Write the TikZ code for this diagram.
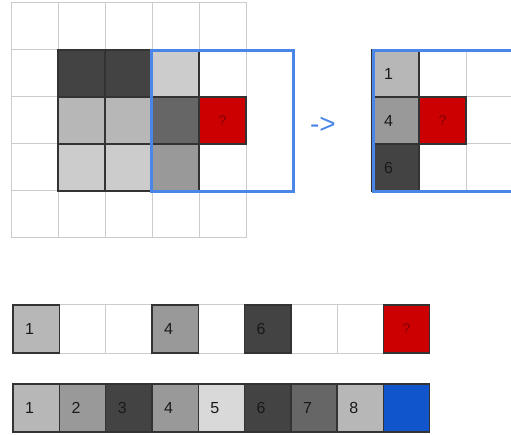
\documentclass[tikz,border=0pt]{standalone}
\usepackage{fontspec}
\setmainfont{Liberation Sans}
\definecolor{gridgray}{HTML}{CCCCCC}
\definecolor{edgedark}{HTML}{333333}
\definecolor{gA}{HTML}{434343}
\definecolor{gB}{HTML}{666666}
\definecolor{gC}{HTML}{999999}
\definecolor{gD}{HTML}{B7B7B7}
\definecolor{gE}{HTML}{CCCCCC}
\definecolor{gF}{HTML}{D9D9D9}
\definecolor{cellred}{HTML}{CC0000}
\definecolor{qred}{HTML}{800000}
\definecolor{cellblue}{HTML}{1155CC}
\definecolor{framblue}{HTML}{4A86E8}
\begin{document}
\begin{tikzpicture}[x=1pt,y=-1pt,
  wcell/.style={draw=gridgray, line width=1pt, fill=white, anchor=north west,
    minimum width=47pt, minimum height=47pt, inner sep=0pt, outer sep=0pt},
  ccell/.style={draw=edgedark, line width=1.4pt, fill=#1, anchor=north west,
    minimum width=47pt, minimum height=47pt, inner sep=0pt, outer sep=0pt},
  digit/.style={anchor=west, inner sep=0pt, text=black!90, font=\fontsize{16}{16}\selectfont},
  qmark/.style={inner sep=0pt, text=qred, font=\fontsize{14}{14}\selectfont},
  frame/.style={draw=framblue, line width=3pt}]
\useasboundingbox (0,0) rectangle (511,435);
\clip (0,0) rectangle (511,435);
% ---------- left 5x5 grid ----------
\foreach \c in {0,...,4}{\foreach \r in {0,...,4}{
  \node[wcell] (L-\c-\r) at (11+47*\c, 3+47*\r) {};}}
\node[ccell=gA] (La) at (58,50) {};
\node[ccell=gA] (Lb) at (105,50) {};
\node[ccell=gE] (Lc) at (152,50) {};
\node[ccell=gD] (Ld) at (58,97) {};
\node[ccell=gD] (Le) at (105,97) {};
\node[ccell=gB] (Lf) at (152,97) {};
\node[ccell=cellred] (Lq) at (199,97) {};
\node[qmark] (Lqt) at (Lq.center) {?};
\node[ccell=gE] (Lg) at (58,144) {};
\node[ccell=gE] (Lh) at (105,144) {};
\node[ccell=gC] (Li) at (152,144) {};
\coordinate (LF1) at (151,51);
\coordinate (LF2) at (293,192);
\draw[frame] (LF1) rectangle (LF2);
% ---------- arrow text ----------
\node[text=framblue, inner sep=0pt, font=\fontsize{28}{28}\selectfont] (arr) at (323,125) {->};
% ---------- right grid ----------
\foreach \c in {0,...,2}{\foreach \r in {0,...,2}{
  \node[wcell] (R-\c-\r) at (372+47*\c, 50+47*\r) {};}}
\node[ccell=gD] (Ra) at (372,50) {};
\node[digit] (Rat) at ([xshift=12pt]Ra.west) {1};
\node[ccell=gC] (Rb) at (372,97) {};
\node[digit] (Rbt) at ([xshift=12pt]Rb.west) {4};
\node[ccell=gA] (Rc) at (372,144) {};
\node[digit] (Rct) at ([xshift=12pt]Rc.west) {6};
\node[ccell=cellred] (Rq) at (419,97) {};
\node[qmark] (Rqt) at (Rq.center) {?};
\coordinate (RF1) at (373,51);
\coordinate (RF2) at (520,192);
\draw[frame] (RF1) rectangle (RF2);
% ---------- bottom row 1 ----------
\foreach \i in {0,...,8}{
  \node[wcell, minimum width=46.3pt, minimum height=48pt] (A-\i) at (13+46.3*\i, 305) {};}
\node[ccell=gD, minimum width=46.3pt, minimum height=48pt] (A1) at (13,305) {};
\node[digit] (A1t) at ([xshift=12pt]A1.west) {1};
\node[ccell=gC, minimum width=46.3pt, minimum height=48pt] (A4) at (13+46.3*3,305) {};
\node[digit] (A4t) at ([xshift=12pt]A4.west) {4};
\node[ccell=gA, minimum width=46.3pt, minimum height=48pt] (A6) at (13+46.3*5,305) {};
\node[digit] (A6t) at ([xshift=12pt]A6.west) {6};
\node[ccell=cellred, minimum width=46.3pt, minimum height=48pt] (Aq) at (13+46.3*8,305) {};
\node[qmark] (Aqt) at (Aq.center) {?};
% ---------- bottom row 2 ----------
\foreach \i/\col/\lab in {0/gD/1,1/gC/2,2/gA/3,3/gC/4,4/gF/5,5/gA/6,6/gB/7,7/gD/8}{
  \node[ccell=\col, minimum width=46.3pt, minimum height=48pt] (B-\i) at (13+46.3*\i, 384) {};
  \node[digit] (B-\i-t) at ([xshift=12pt]B-\i.west) {\lab};}
\node[ccell=cellblue, minimum width=46.3pt, minimum height=48pt] (B-8) at (13+46.3*8, 384) {};
\end{tikzpicture}
\end{document}
